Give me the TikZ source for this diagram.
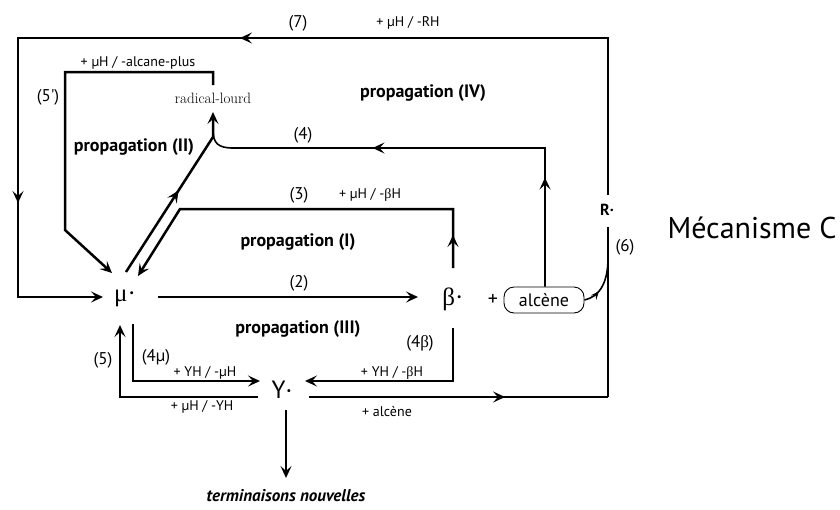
\documentclass[tikz,border=0pt]{standalone}
\usepackage{fontspec}
\newfontfamily\ptsans{PT Sans}
\newfontfamily\libser{Liberation Serif}
\usetikzlibrary{arrows.meta,decorations.markings,calc}
\begin{document}
\begin{tikzpicture}[x=1pt,y=-1pt,
  >={Stealth[length=12pt,width=11pt,inset=5pt]},
  ln/.style={line width=2.5pt,line join=miter},
  tln/.style={line width=1.6pt,line join=miter},
  amark/.style={postaction={decorate,decoration={markings,mark=at position #1 with {\arrow{>}}}}},
  smark/.style={postaction={decorate,decoration={markings,mark=at position #1 with {\arrow{Stealth[length=8pt,width=7pt,inset=3pt]}}}}},
  lbl/.style={inner sep=0pt,font=\ptsans\fontsize{14}{14}\selectfont},
  num/.style={inner sep=0pt,font=\ptsans\fontsize{17}{17}\selectfont},
  prop/.style={inner sep=0pt,font=\ptsans\bfseries\fontsize{18}{18}\selectfont},
  spec/.style={inner sep=0pt,font=\libser\fontsize{25}{25}\selectfont},
]
\useasboundingbox (0,0) rectangle (840,509);

% species nodes
\node[spec] (mu) at (125,298) {μ·};
\node[spec] (beta) at (453,299) {β·};
\node[inner sep=0pt,font=\ptsans\fontsize{25}{25}\selectfont] (Y) at (282,390) {Y·};
\node[inner sep=0pt,font=\ptsans\bfseries\fontsize{16}{16}\selectfont] (R) at (607,210) {R·};
\node[draw,line width=0.9pt,rounded corners=10pt,minimum width=80pt,minimum height=26pt,inner sep=0pt,font=\ptsans\fontsize{18}{18}\selectfont] (alc) at (544,300) {alcène};
\node[inner sep=0pt,font=\ptsans\fontsize{20}{20}\selectfont] (plus) at (493,300) {+};
\node[inner sep=0pt,font=\rmfamily\fontsize{15}{15}\selectfont] (rl) at (213,98) {radical-lourd};
\node[inner sep=0pt,font=\ptsans\bfseries\itshape\fontsize{17}{17}\selectfont] (term) at (286,496) {terminaisons nouvelles};
\node[inner sep=0pt,font=\ptsans\fontsize{30}{30}\selectfont] (mec) at (752,228) {Mécanisme C};

% corner coordinates
\coordinate (tr) at (608,38);
\coordinate (tl) at (18,38);
\coordinate (bl) at (18,297);
\coordinate (c5a) at (213,72);
\coordinate (c5b) at (65,72);
\coordinate (c5c) at (65,230);
\coordinate (dj) at (213,137);
\coordinate (c4a) at (545,148);
\coordinate (c4b) at (233,148);
\coordinate (c3a) at (453,209);
\coordinate (c3b) at (180,209);
\coordinate (c4m) at (133,381);
\coordinate (c5) at (120,397);
\coordinate (c4b2) at (453,381);
\coordinate (br) at (608,397);
\coordinate (j6) at (608,258);

% (7)
\draw[ln,->,amark=525pt,amark=912pt] ($(R)+(1,-15)$) -- (tr) -- (tl) -- (bl) -- ($(mu)+(-22,-1)$);
% (5')
\draw[ln,->] ($(rl)+(0,-13)$) -- (c5a) -- (c5b) -- (c5c) -- ($(mu)+(-13,-25)$);
% diagonal mu -> radical-lourd
\draw[ln,->,amark=97pt] ($(mu)+(1,-26)$) -- (dj) -- ($(rl)+(0,14)$);
% (4)
\draw[tln,amark=109pt,amark=311pt] ([xshift=1pt]alc.north) -- (c4a) -- (c4b) .. controls (218,148) and (213,143) .. (213,130);
% (3)
\draw[ln,->,amark=33pt] ($(beta)+(0,-31)$) -- (c3a) -- (c3b) -- ($(mu)+(13,-22)$);
% (2)
\draw[ln,->] ($(mu)+(33,-1)$) -- ($(beta)+(-35,-2)$);
% (4mu)
\draw[ln,->] ($(mu)+(8,26)$) -- (c4m) -- ($(Y)+(-22,-9)$);
% (5)
\draw[ln,->] ($(Y)+(-24,7)$) -- (c5) -- ($(mu)+(-5,27)$);
% (4beta)
\draw[ln,->] ($(beta)+(0,29)$) -- (c4b2) -- ($(Y)+(23,-9)$);
% Y -> R
\draw[ln,amark=196pt] ($(Y)+(27,7)$) -- (br);
\draw[tln] (br) -- ($(R)+(1,17)$);
% (6)
\draw[tln,smark=17pt] (alc.east) .. controls (598,297) and (608,285) .. (j6);
% Y -> terminaisons
\draw[ln,->] ($(Y)+(4,20)$) -- ($(term)+(0,-18)$);

% labels
\node[num] (l7) at (298,23) {(7)};
\node[lbl] (l7b) at (408,23) {+ µH / -RH};
\node[lbl] (l5p) at (138,63) {+ µH / -alcane-plus};
\node[num] (l5pn) at (48,97) {(5')};
\node[prop] (p4) at (423,93) {propagation (IV)};
\node[prop] (p2) at (134,147) {propagation (II)};
\node[num] (l4) at (303,135) {(4)};
\node[num] (l3) at (299,195) {(3)};
\node[lbl] (l3b) at (370,195) {+ µH / -{\libser β}H};
\node[prop] (p1) at (298,242) {propagation (I)};
\node[num] (l2) at (299,283) {(2)};
\node[prop] (p3) at (298,329) {propagation (III)};
\node[num] (l4b) at (420,343) {(4{\libser β})};
\node[num] (l5) at (103,360) {(5)};
\node[num] (l4m) at (156,357) {(4µ)};
\node[lbl] (l4ma) at (205,373) {+ YH / -µH};
\node[lbl] (l5a) at (202,407) {+ µH / -YH};
\node[lbl] (l4ba) at (392,373) {+ YH / -{\libser β}H};
\node[lbl] (lalc) at (387,412) {+ alcène};
\node[num] (l6) at (625,247) {(6)};
\end{tikzpicture}
\end{document}
